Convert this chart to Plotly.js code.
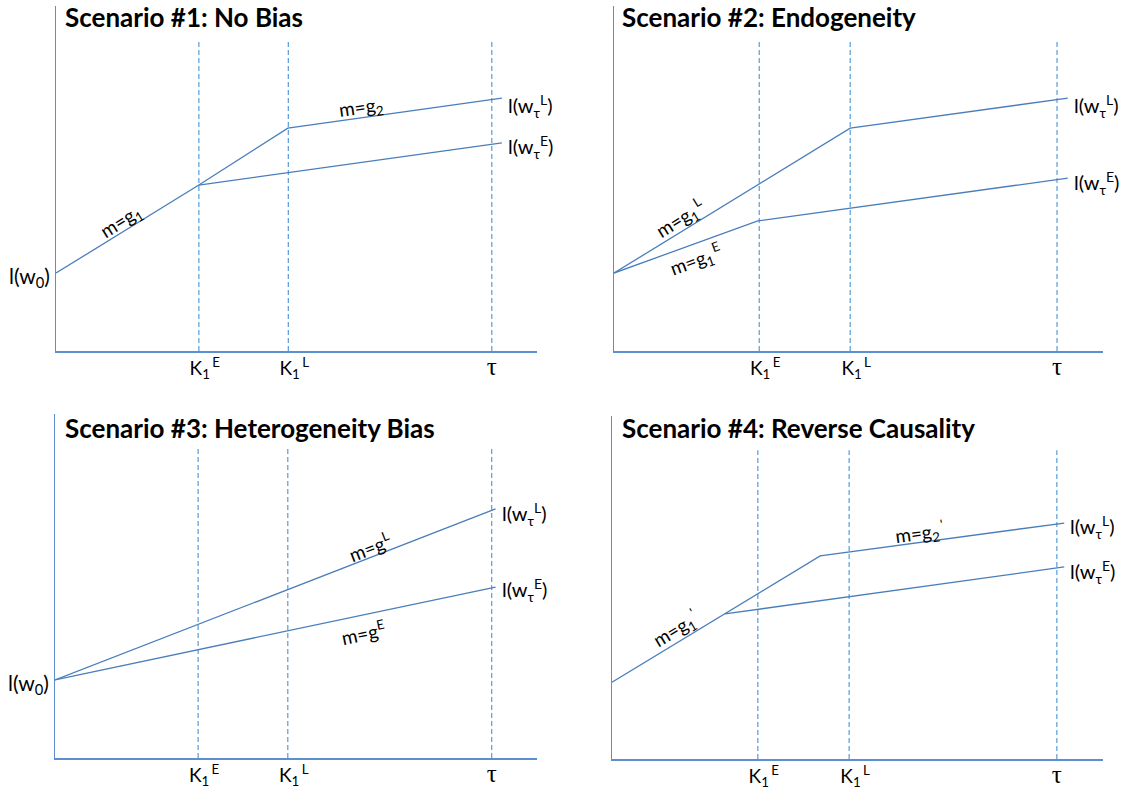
<!DOCTYPE html>
<html>
<head>
<meta charset="utf-8">
<script src="https://cdn.plot.ly/plotly-3.0.1.min.js"></script>
<style>html,body{margin:0;padding:0;background:#fff}#chart{width:1132px;height:792px}</style>
</head>
<body>
<div id="chart"></div>
<script>
// ---- data (x and y on 0..100 scales per panel) ----
const tickVals = [29.7, 48.3, 90.6];                 // K1^E, K1^L, tau
const tickText = [
  '\u2002\u2009K<sub>1</sub>\u2009<sup>E</sup>',
  '\u2002\u2009K<sub>1</sub>\u2009<sup>L</sup>',
  '<span style="font-family:\'Liberation Serif\',serif;font-size:25px">τ</span>'
];
const guideTop = [90, 90, 90];

const titles = ['Scenario #1: No Bias', 'Scenario #2: Endogeneity', 'Scenario #3: Heterogeneity Bias', 'Scenario #4: Reverse Causality'];

// Scenario 1
const s1Lx = [0, 29.7, 48.2, 92.7];
const s1Ly = [22.6, 48.1, 64.6, 73.3];
const s1Ex = [29.7, 92.7];
const s1Ey = [48.1, 60.3];
// Scenario 2
const s2Lx = [0, 48.3, 92.8];
const s2Ly = [22.6, 64.6, 73.3];
const s2Ex = [0, 29.4, 92.8];
const s2Ey = [22.6, 37.7, 50.1];
// Scenario 3
const s3Lx = [0, 91.4];
const s3Ly = [22.7, 72.4];
const s3Ex = [0, 91.4];
const s3Ey = [22.7, 49.7];
// Scenario 4
const s4Lx = [0, 42.4, 92.1];
const s4Ly = [22.4, 59.2, 68.8];
const s4Ex = [23.0, 92.1];
const s4Ey = [42.3, 56.0];

// ---- styling ----
const lineColor = '#4a7ebb';
const axisColor = '#5b8fd0';
const dashColor = '#5b9bd5';
const FONT = 'Lato, "Open Sans", sans-serif';

const panels = [
  {L: [s1Lx, s1Ly], E: [s1Ex, s1Ey]},
  {L: [s2Lx, s2Ly], E: [s2Ex, s2Ey]},
  {L: [s3Lx, s3Ly], E: [s3Ex, s3Ey]},
  {L: [s4Lx, s4Ly], E: [s4Ex, s4Ey]}
];
const W = 1132, H = 792;
const boxes = [ // pixel boxes: left, right, top, bottom
  [56, 537, 6, 351],
  [614, 1103, 6, 351],
  [55, 537, 414, 758],
  [612, 1103, 416, 759]
];
const titlePos = [[63, 17], [620, 17], [63, 428], [620, 428]];
const endShiftL = [-8, -8, -5, -4];
const endShiftE = [-4, -5, -3, -5];

const traces = [];
const layout = {
  width: W, height: H,
  margin: {l: 0, r: 0, t: 0, b: 0},
  paper_bgcolor: '#fff', plot_bgcolor: 'rgba(0,0,0,0)',
  showlegend: false,
  font: {family: FONT, size: 19, color: '#000'},
  annotations: []
};

panels.forEach((p, i) => {
  const n = i + 1;
  const xa = 'x' + (n === 1 ? '' : n), ya = 'y' + (n === 1 ? '' : n);
  const b = boxes[i];
  layout['xaxis' + (n === 1 ? '' : n)] = {
    domain: [b[0] / W, b[1] / W], range: [0, 100], anchor: ya,
    showline: true, linecolor: axisColor, linewidth: 1.5,
    showgrid: false, zeroline: false, ticks: '',
    tickmode: 'array', tickvals: tickVals, ticktext: tickText,
    tickfont: {family: FONT, size: 19, color: '#000'},
    fixedrange: true
  };
  layout['yaxis' + (n === 1 ? '' : n)] = {
    domain: [1 - b[3] / H, 1 - b[2] / H], range: [0, 100], anchor: xa,
    showline: true, linecolor: axisColor, linewidth: 1.5,
    showgrid: false, zeroline: false, ticks: '', showticklabels: false,
    fixedrange: true
  };
  // dashed guides
  tickVals.forEach((tv, k) => {
    traces.push({x: [tv, tv], y: [0, guideTop[k]], xaxis: xa, yaxis: ya, mode: 'lines',
      line: {color: dashColor, width: 1.2, dash: '5px,3px'}, hoverinfo: 'skip'});
  });
  traces.push({x: p.L[0], y: p.L[1], xaxis: xa, yaxis: ya, mode: 'lines',
    line: {color: lineColor, width: 1.3}, hoverinfo: 'skip'});
  traces.push({x: p.E[0], y: p.E[1], xaxis: xa, yaxis: ya, mode: 'lines',
    line: {color: lineColor, width: 1.3}, hoverinfo: 'skip'});
  // title
  layout.annotations.push({xref: 'paper', yref: 'paper', x: titlePos[i][0] / W, y: 1 - titlePos[i][1] / H,
    xanchor: 'left', yanchor: 'middle', showarrow: false, text: '<b>' + titles[i] + '</b>',
    font: {family: FONT, size: 26, color: '#000'}});
  // end labels
  const lx = p.L[0][p.L[0].length - 1], ly = p.L[1][p.L[1].length - 1];
  const ex = p.E[0][p.E[0].length - 1], ey = p.E[1][p.E[1].length - 1];
  layout.annotations.push({xref: xa, yref: ya, x: lx, y: ly, xanchor: 'left', yanchor: 'middle', xshift: 4, yshift: endShiftL[i],
    showarrow: false, text: 'l(w<sub>τ</sub><sup>L</sup>)', font: {size: 20}});
  layout.annotations.push({xref: xa, yref: ya, x: ex, y: ey, xanchor: 'left', yanchor: 'middle', xshift: 4, yshift: endShiftE[i],
    showarrow: false, text: 'l(w<sub>τ</sub><sup>E</sup>)', font: {size: 20}});
  if (i === 0 || i === 2) {
    layout.annotations.push({xref: xa, yref: ya, x: 0, y: p.L[1][0], xanchor: 'right', yanchor: 'middle', xshift: -4, yshift: -4,
      showarrow: false, text: 'l(w<sub>0</sub>)', font: {size: 21}});
  }
});

// slope labels (positions in axis units, angles in degrees)
const slopeLabels = [
  ['x', 'y', 13.5, 37.5, -32, 'm=g<sub>1</sub>'],
  ['x', 'y', 63.5, 70.5, -8, 'm=g<sub>2</sub>'],
  ['x2', 'y2', 13.5, 38.3, -31.6, 'm=g<sub>1</sub><sup>\u2009L</sup>'],
  ['x2', 'y2', 16.8, 26.5, -20, 'm=g<sub>1</sub><sup>\u2009E</sup>'],
  ['x3', 'y3', 65.4, 61.4, -21.2, 'm=g<sup>L</sup>'],
  ['x3', 'y3', 63.9, 36.6, -11.9, 'm=g<sup>E</sup>'],
  ['x4', 'y4', 13.0, 38.0, -31.2, 'm=g<sub>1</sub><sup>\u2009\'</sup>'],
  ['x4', 'y4', 62.7, 66.0, -7.7, 'm=g<sub>2</sub><sup>\u2009\'</sup>']
];
slopeLabels.forEach(s => {
  layout.annotations.push({xref: s[0], yref: s[1], x: s[2], y: s[3], textangle: s[4], text: s[5],
    showarrow: false, xanchor: 'center', yanchor: 'middle', font: {size: 19}});
});

Plotly.newPlot('chart', traces, layout, {staticPlot: true, displayModeBar: false});
</script>
</body>
</html>
